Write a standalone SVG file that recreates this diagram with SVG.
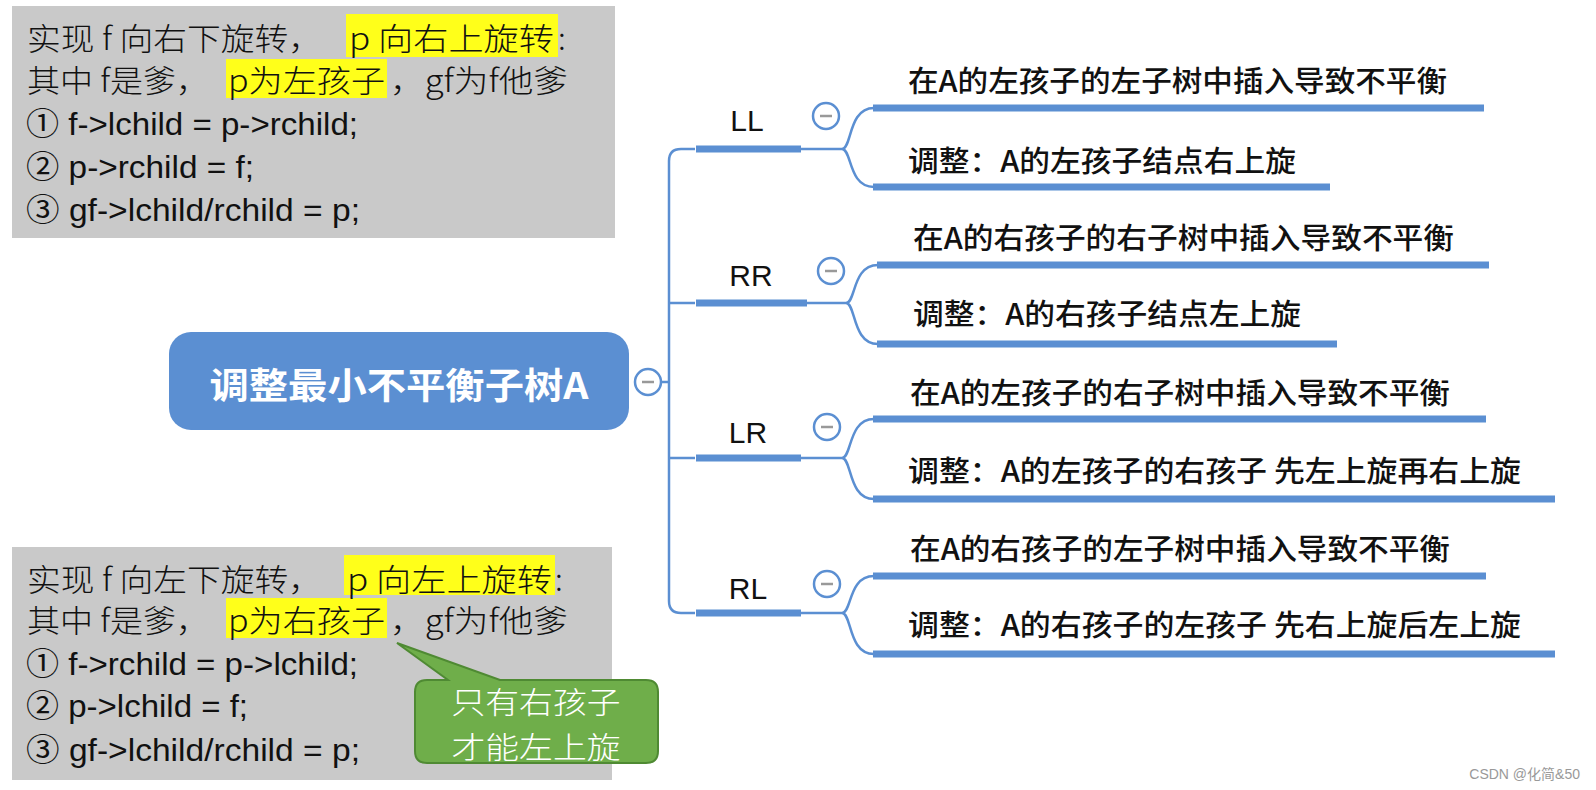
<svg xmlns="http://www.w3.org/2000/svg" width="1596" height="790" viewBox="0 0 1596 790">
<style>
.box{fill:#c9c9c9}
.hl{fill:#ffff1a}
.t{font-family:"Liberation Sans","Noto Sans CJK SC",sans-serif;font-size:32px;fill:#111;dominant-baseline:central}
.c{font-family:"Noto Sans CJK SC",sans-serif;font-size:31px;fill:#111;dominant-baseline:central;font-weight:300}
.leaf{font-family:"Noto Sans CJK SC",sans-serif;font-size:29px;fill:#111;dominant-baseline:central;font-weight:500}
.lbl{font-family:"Liberation Sans","Noto Sans CJK SC",sans-serif;font-size:30px;fill:#111;dominant-baseline:central;text-anchor:middle}
.thin{fill:none;stroke:#5b8fd2;stroke-width:2.5}
.thick{fill:none;stroke:#5b8fd2;stroke-width:7}
.col{fill:#fff;stroke:#5b8fd2;stroke-width:2.5}
.minus{stroke:#999;stroke-width:2.5}
.w{font-family:"Noto Sans CJK SC",sans-serif;font-size:30px;font-weight:300;fill:#fff;text-anchor:middle;dominant-baseline:central}
</style>
<rect width="1596" height="790" fill="#fff"/>

<g id="note-top">
<rect class="box" x="12" y="6" width="603" height="232"/>
<rect class="hl" x="346" y="14" width="212" height="43"/>
<rect class="hl" x="226" y="59" width="161" height="39"/>
<text class="c" x="27" y="36" textLength="295" lengthAdjust="spacingAndGlyphs">实现 f 向右下旋转，</text>
<text class="c" x="349" y="36" textLength="205" lengthAdjust="spacingAndGlyphs">p 向右上旋转</text>
<text class="c" x="558" y="36">:</text>
<text class="c" x="27" y="78" textLength="182" lengthAdjust="spacingAndGlyphs">其中 f是爹，</text>
<text class="c" x="228" y="78" textLength="157" lengthAdjust="spacingAndGlyphs">p为左孩子</text>
<text class="c" x="390" y="78" textLength="178" lengthAdjust="spacingAndGlyphs">，gf为f他爹</text>
<text class="t" x="26" y="124" textLength="332" lengthAdjust="spacingAndGlyphs">① f-&gt;lchild = p-&gt;rchild;</text>
<text class="t" x="26" y="167" textLength="228" lengthAdjust="spacingAndGlyphs">② p-&gt;rchild = f;</text>
<text class="t" x="26" y="210" textLength="334" lengthAdjust="spacingAndGlyphs">③ gf-&gt;lchild/rchild = p;</text>
</g>

<g id="note-bottom">
<rect class="box" x="12" y="547" width="600" height="233"/>
<rect class="hl" x="344" y="555" width="211" height="40"/>
<rect class="hl" x="226" y="598" width="161" height="40"/>
<text class="c" x="27" y="577" textLength="295" lengthAdjust="spacingAndGlyphs">实现 f 向左下旋转，</text>
<text class="c" x="347" y="577" textLength="205" lengthAdjust="spacingAndGlyphs">p 向左上旋转</text>
<text class="c" x="555" y="577">:</text>
<text class="c" x="27" y="618" textLength="182" lengthAdjust="spacingAndGlyphs">其中 f是爹，</text>
<text class="c" x="228" y="618" textLength="157" lengthAdjust="spacingAndGlyphs">p为右孩子</text>
<text class="c" x="390" y="618" textLength="178" lengthAdjust="spacingAndGlyphs">，gf为f他爹</text>
<text class="t" x="26" y="664" textLength="332" lengthAdjust="spacingAndGlyphs">① f-&gt;rchild = p-&gt;lchild;</text>
<text class="t" x="26" y="706" textLength="222" lengthAdjust="spacingAndGlyphs">② p-&gt;lchild = f;</text>
<text class="t" x="26" y="750" textLength="334" lengthAdjust="spacingAndGlyphs">③ gf-&gt;lchild/rchild = p;</text>
</g>

<g id="callout">
<path d="M427 680 H448 L397 643 L500 680 H646 Q658 680 658 692 V751 Q658 763 646 763 H427 Q415 763 415 751 V692 Q415 680 427 680 Z" fill="#6fae4a" stroke="#4f8a33" stroke-width="2"/>
<text class="w" x="536" y="700" textLength="169" lengthAdjust="spacingAndGlyphs">只有右孩子</text>
<text class="w" x="536" y="745" textLength="169" lengthAdjust="spacingAndGlyphs">才能左上旋</text>
</g>

<g id="connectors">
<path class="thin" d="M662 382 H669"/>
<path class="thin" d="M695 149 H681 Q669 149 669 161 V601 Q669 613 681 613 H695"/>
<path class="thin" d="M669 303 H695 M669 458 H695"/>
<path class="thick" d="M696 149 H801 M696 303 H807 M696 458 H801 M696 613 H801"/>
<path class="thin" d="M801 149 H842 M807 303 H846 M801 458 H842 M801 613 H842"/>
<path class="thin" d="M842 149 C852 149 848 108 874 108 M842 149 C852 149 848 187 874 187"/>
<path class="thin" d="M846 303 C856 303 852 265 878 265 M846 303 C856 303 852 344 878 344"/>
<path class="thin" d="M842 458 C852 458 848 419 874 419 M842 458 C852 458 848 499 874 499"/>
<path class="thin" d="M842 613 C852 613 848 576 874 576 M842 613 C852 613 848 654 874 654"/>
<path class="thick" d="M873 108 H1484 M873 187 H1330"/>
<path class="thick" d="M877 265 H1489 M877 344 H1337"/>
<path class="thick" d="M873 419 H1486 M873 499 H1555"/>
<path class="thick" d="M873 576 H1486 M873 654 H1555"/>
</g>

<g id="root">
<rect x="169" y="332" width="460" height="98" rx="22" fill="#5b8fd2"/>
<text x="399" y="383" font-family="Noto Sans CJK SC,sans-serif" font-size="36" font-weight="bold" fill="#fff" text-anchor="middle" dominant-baseline="central" textLength="379" lengthAdjust="spacingAndGlyphs">调整最小不平衡子树A</text>
<circle class="col" cx="648" cy="382" r="13"/>
<line class="minus" x1="642" y1="382" x2="654" y2="382"/>
</g>

<g id="LL">
<text class="lbl" x="747" y="120">LL</text>
<circle class="col" cx="826" cy="116" r="13"/>
<line class="minus" x1="820" y1="116" x2="832" y2="116"/>
</g>
<g id="RR">
<text class="lbl" x="751" y="275">RR</text>
<circle class="col" cx="831" cy="271" r="13"/>
<line class="minus" x1="825" y1="271" x2="837" y2="271"/>
</g>
<g id="LR">
<text class="lbl" x="748" y="432">LR</text>
<circle class="col" cx="827" cy="427" r="13"/>
<line class="minus" x1="821" y1="427" x2="833" y2="427"/>
</g>
<g id="RL">
<text class="lbl" x="748" y="588">RL</text>
<circle class="col" cx="827" cy="584" r="13"/>
<line class="minus" x1="821" y1="584" x2="833" y2="584"/>
</g>

<g id="LL-1"><text class="leaf" x="908" y="79" textLength="539" lengthAdjust="spacingAndGlyphs">在A的左孩子的左子树中插入导致不平衡</text></g>
<g id="LL-2"><text class="leaf" x="908" y="159" textLength="388" lengthAdjust="spacingAndGlyphs">调整：A的左孩子结点右上旋</text></g>
<g id="RR-1"><text class="leaf" x="913" y="236" textLength="541" lengthAdjust="spacingAndGlyphs">在A的右孩子的右子树中插入导致不平衡</text></g>
<g id="RR-2"><text class="leaf" x="913" y="312" textLength="388" lengthAdjust="spacingAndGlyphs">调整：A的右孩子结点左上旋</text></g>
<g id="LR-1"><text class="leaf" x="910" y="391" textLength="540" lengthAdjust="spacingAndGlyphs">在A的左孩子的右子树中插入导致不平衡</text></g>
<g id="LR-2"><text class="leaf" x="908" y="469" textLength="613" lengthAdjust="spacingAndGlyphs">调整：A的左孩子的右孩子 先左上旋再右上旋</text></g>
<g id="RL-1"><text class="leaf" x="910" y="547" textLength="540" lengthAdjust="spacingAndGlyphs">在A的右孩子的左子树中插入导致不平衡</text></g>
<g id="RL-2"><text class="leaf" x="908" y="623" textLength="613" lengthAdjust="spacingAndGlyphs">调整：A的右孩子的左孩子 先右上旋后左上旋</text></g>

<text x="1580" y="774" font-family="Liberation Sans,Noto Sans CJK SC,sans-serif" font-size="14" fill="#999" text-anchor="end" dominant-baseline="central">CSDN @化简&amp;50</text>
</svg>
